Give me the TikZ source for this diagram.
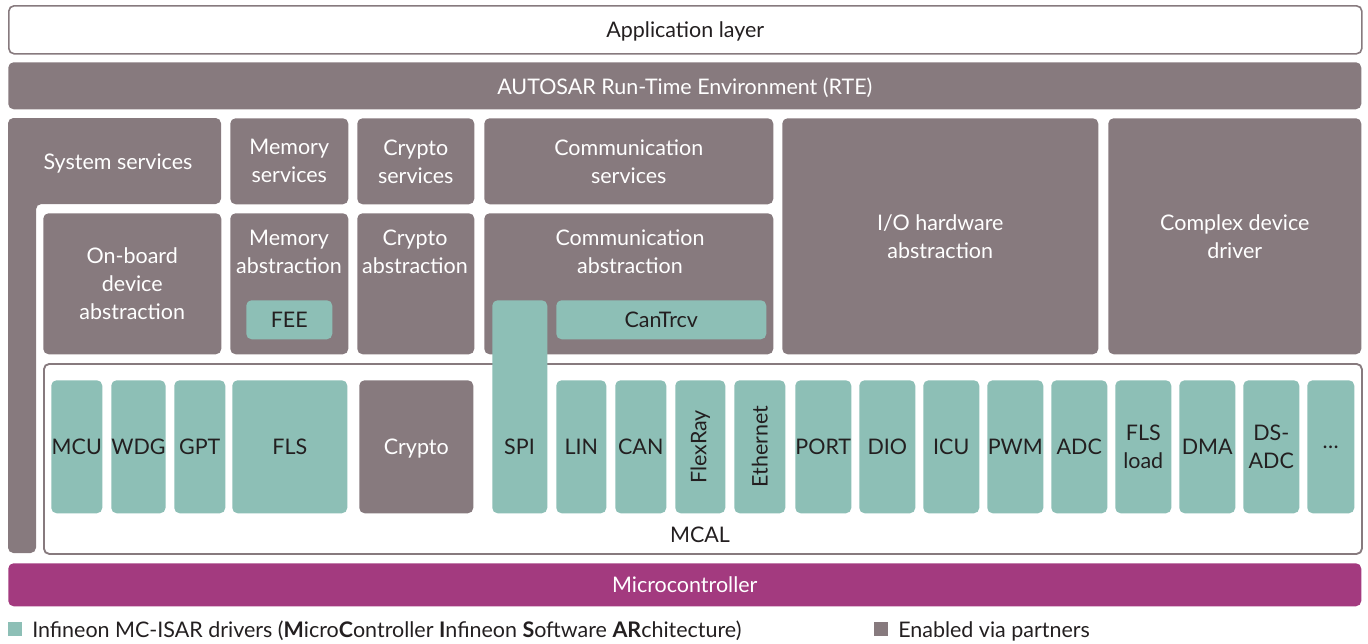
\documentclass[tikz,border=0pt]{standalone}
\usepackage{fontspec}
\setmainfont{Lato}
\usepackage{tikz}
\definecolor{ifxgray}{RGB}{135,122,126}
\definecolor{ifxteal}{RGB}{141,191,182}
\definecolor{ifxberry}{RGB}{163,58,127}
\definecolor{ifxtext}{RGB}{35,31,32}
\newcommand\lbl{\fontsize{16.1}{21}\selectfont}
\tikzset{
  wh/.style 2 args={minimum width=#1*0.75pt,minimum height=#2*0.75pt},
  blk/.style={rounded corners=4pt,inner sep=0pt,align=center,anchor=north west,font=\lbl,text depth=0pt},
  graybox/.style={blk,fill=ifxgray,text=white},
  tealbox/.style={blk,fill=ifxteal,text=ifxtext},
  wtxt/.style={text=white,align=center,font=\lbl,inner sep=0pt,text depth=0pt},
  dtxt/.style={text=ifxtext,align=center,font=\lbl,inner sep=0pt},
}

\begin{document}
\begin{tikzpicture}[x=0.75pt,y=-0.75pt]
  \useasboundingbox (0,0) rectangle (1368,643);
  % upper layers
  \node[blk,draw=ifxgray,line width=1.2pt,fill=white,text=ifxtext,wh={1353}{48}] (app) at (8,5) {Application layer};
  \node[graybox,wh={1353}{47}] (rte) at (8,62) {AUTOSAR Run-Time Environment (RTE)};
  \fill[ifxgray,rounded corners=4pt] (8,118) -- (221,118) -- (221,204) -- (36,204) -- (36,553) -- (8,553) -- cycle;
  \node[wtxt] (syssrv) at (118,162) {System services};
  \node[graybox,wh={118}{86}] (memsrv) at (230,118) {Memory\\services};
  \node[graybox,wh={117}{86}] (crysrv) at (357,118) {Crypto\\services};
  \node[graybox,wh={289}{86}] (comsrv) at (484,118) {Communication\\services};
  \node[graybox,wh={316}{236}] (ioabs) at (782,118) {I/O hardware\\abstraction};
  \node[graybox,wh={253}{236}] (cdd) at (1108,118) {Complex device\\driver};
  % abstraction layer
  \node[graybox,wh={178}{141}] (onbrd) at (43,213) {On-board\\device\\abstraction};
  \node[graybox,wh={118}{141}] (memabs) at (230,213) {};
  \node[wtxt] (memabstxt) at (289,252) {Memory\\abstraction};
  \node[graybox,wh={117}{141}] (cryabs) at (357,213) {};
  \node[wtxt] (cryabstxt) at (415,252) {Crypto\\abstraction};
  \node[graybox,wh={289}{141}] (comabs) at (484,213) {};
  \node[wtxt] (comabstxt) at (630,252) {Communication\\abstraction};
  \node[tealbox,wh={86}{39}] (fee) at (246,300) {FEE};
  \node[tealbox,wh={210}{39}] (cantrcv) at (556,300) {CanTrcv};
  % MCAL
  \node[blk,draw=ifxgray,line width=1.4pt,fill=white,wh={1318}{190}] (mcal) at (43,363) {};
  \node[dtxt] (mcaltxt) at (700,535) {MCAL};
  \node[tealbox,wh={51}{133}] (mcu) at (51,380) {MCU};
  \node[tealbox,wh={54}{133}] (wdg) at (111,380) {WDG};
  \node[tealbox,wh={51}{133}] (gpt) at (174,380) {GPT};
  \node[tealbox,wh={115}{133}] (fls) at (232,380) {FLS};
  \node[graybox,wh={114}{133}] (crydrv) at (359,380) {Crypto};
  \node[tealbox,wh={55}{213}] (spi) at (492,300) {};
  \node[dtxt,text depth=0pt] (spitxt) at (519.5,446.5) {SPI};
  \node[tealbox,wh={50}{133}] (lin) at (556,380) {LIN};
  \node[tealbox,wh={51}{133}] (can) at (615,380) {CAN};
  \node[tealbox,wh={50}{133}] (flexray) at (675,380) {};
  \node[dtxt,rotate=90] (flexraytxt) at (flexray.center) {FlexRay};
  \node[tealbox,wh={51}{133}] (eth) at (734,380) {};
  \node[dtxt,rotate=90] (ethtxt) at (eth.center) {Ethernet};
  \node[tealbox,wh={56}{133}] (port) at (795,380) {PORT};
  \node[tealbox,wh={56}{133}] (dio) at (859,380) {DIO};
  \node[tealbox,wh={56}{133}] (icu) at (923,380) {ICU};
  \node[tealbox,wh={56}{133}] (pwm) at (987,380) {PWM};
  \node[tealbox,wh={56}{133}] (adc) at (1051,380) {ADC};
  \node[tealbox,wh={56}{133}] (flsload) at (1115,380) {FLS\\load};
  \node[tealbox,wh={56}{133}] (dma) at (1179,380) {DMA};
  \node[tealbox,wh={56}{133}] (dsadc) at (1243,380) {DS-\\ADC};
  \node[tealbox,wh={47}{133}] (more) at (1307,380) {\dots};
  % hardware
  \node[blk,fill=ifxberry,text=white,wh={1353}{43}] (uc) at (8,563) {Microcontroller};
  % legend
  \node[fill=ifxteal,inner sep=0pt,anchor=north west,wh={14}{14}] (keyteal) at (8,622) {};
  \node[dtxt,anchor=base west] (keytealtxt) at (32,637) {Infineon MC-ISAR drivers (\textbf{M}icro\textbf{C}ontroller \textbf{I}nfineon \textbf{S}oftware \textbf{AR}chitecture)};
  \node[fill=ifxgray,inner sep=0pt,anchor=north west,wh={14}{14}] (keygray) at (874,622) {};
  \node[dtxt,anchor=base west] (keygraytxt) at (898,637) {Enabled via partners};
\end{tikzpicture}
\end{document}
